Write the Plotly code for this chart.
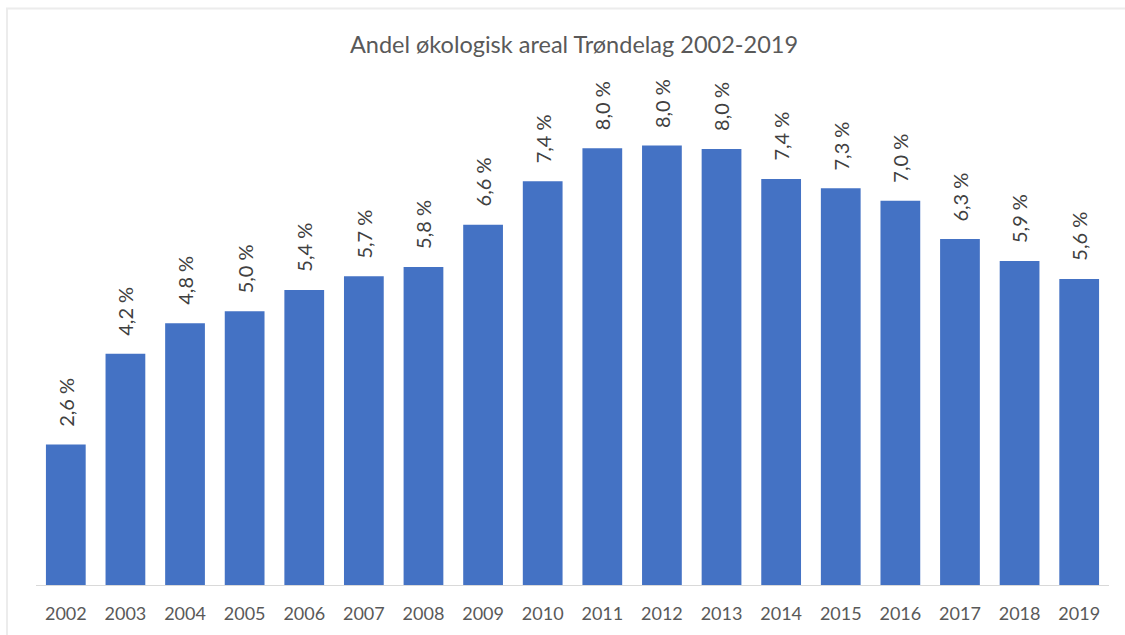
import plotly.graph_objects as go

years = ["2002", "2003", "2004", "2005", "2006", "2007", "2008", "2009", "2010",
         "2011", "2012", "2013", "2014", "2015", "2016", "2017", "2018", "2019"]
share = [2.57, 4.23, 4.79, 5.01, 5.40, 5.65, 5.82, 6.59, 7.39,
         7.99, 8.04, 7.98, 7.43, 7.26, 7.03, 6.33, 5.93, 5.60]
labels = [f"{v:.1f}".replace(".", ",") + "\u00a0%" for v in share]

FONT = "Lato"

fig = go.Figure(go.Bar(
    x=years, y=share,
    marker=dict(color="#4472C4", line=dict(width=0)),
    hoverinfo="skip",
))

# page body margin is removed below, so figure pixels equal window pixels
W, H = 1125, 635
L, T = 36, 90
R, B = W - 1109, H - 585
pw, ph = W - L - R, H - T - B


def px_x(p):
    return (p - L) / pw


def px_y(p):
    return (H - B - p) / ph


# on a category axis, annotation x is the serial index of the category
annotations = [
    dict(x=i, y=v, xref="x", yref="y", text=lab, showarrow=False,
         textangle=-90, xanchor="center", yanchor="bottom", yshift=16,
         font=dict(family=FONT, size=20, color="#404040"))
    for i, (v, lab) in enumerate(zip(share, labels))
]

fig.update_layout(
    width=W, height=H,
    margin=dict(l=L, r=R, t=T, b=B),
    paper_bgcolor="white", plot_bgcolor="white",
    title=dict(text="Andel økologisk areal Trøndelag 2002-2019",
               x=px_x(574), xref="paper", xanchor="center",
               y=1 - 45 / H, yanchor="middle",
               font=dict(family=FONT, size=23.5, color="#595959")),
    bargap=0.333,
    showlegend=False,
    hovermode=False,
    xaxis=dict(type="category", showline=True, linecolor="#d9d9d9", linewidth=1,
               ticks="", showgrid=False, ticklabelstandoff=12,
               range=[-0.5, len(years) - 0.5],
               tickfont=dict(family=FONT, size=18, color="#595959")),
    yaxis=dict(visible=False, range=[0, ph / 54.65], showgrid=False),
    annotations=annotations,
    shapes=[dict(type="rect", xref="paper", yref="paper",
                 x0=px_x(7), x1=px_x(1140), y0=px_y(8.5), y1=px_y(650),
                 line=dict(color="#ececec", width=2), layer="below")],
)

fig.write_html(
    "out.html",
    config={"displayModeBar": False},
    post_script="document.body.style.margin='0';document.body.style.overflow='hidden';",
)
